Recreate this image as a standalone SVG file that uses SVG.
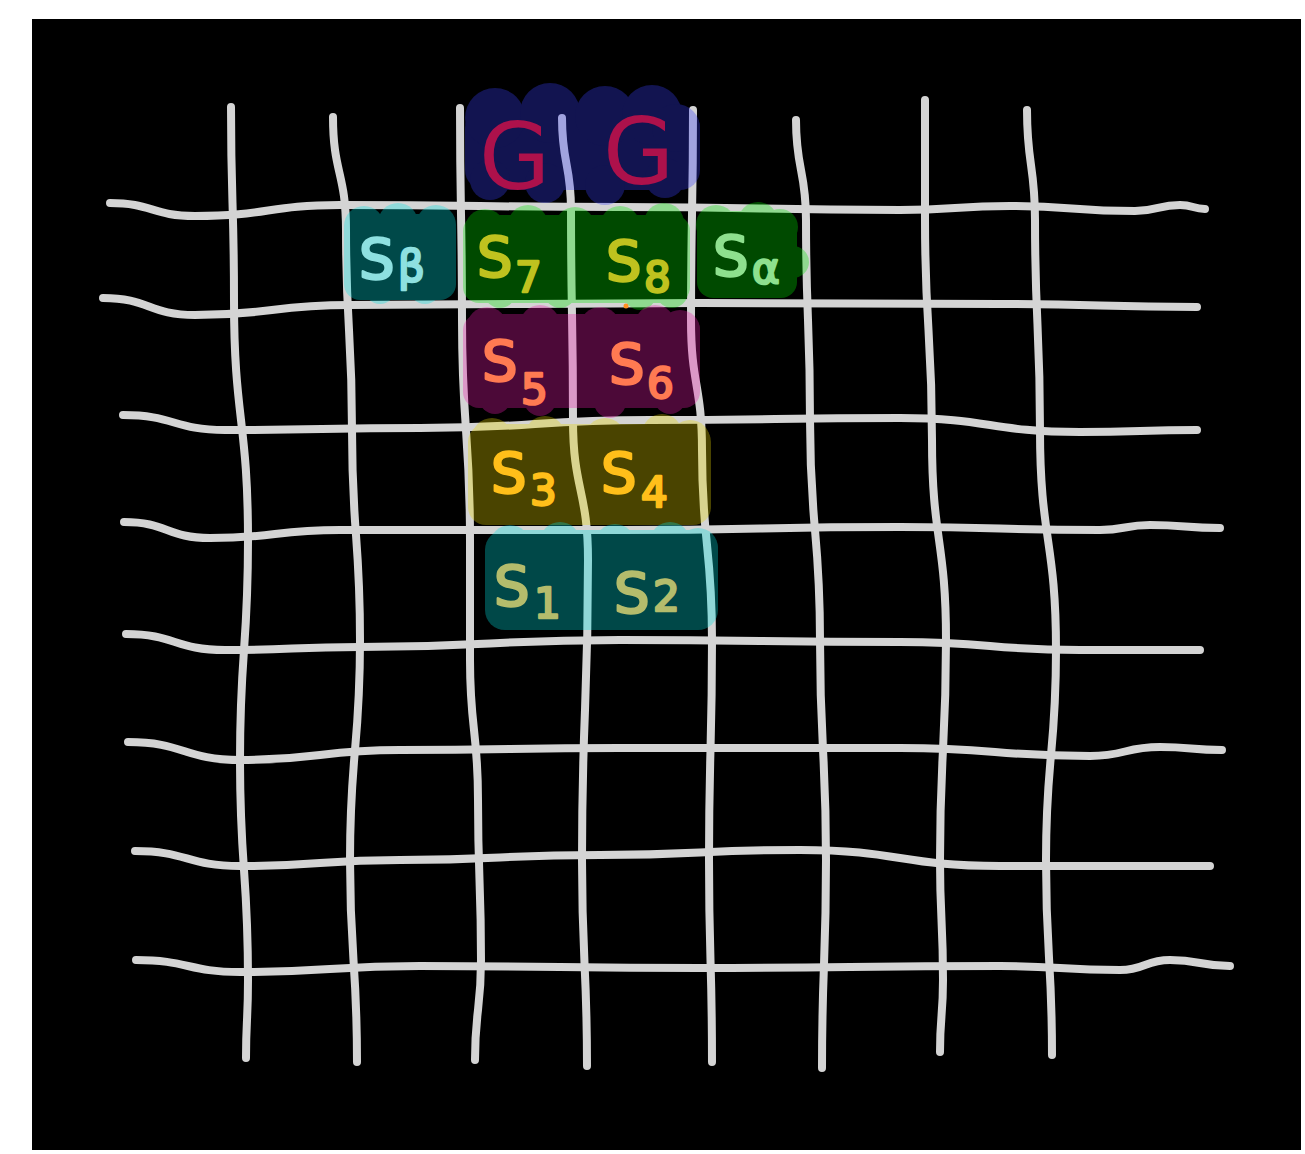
<svg xmlns="http://www.w3.org/2000/svg" width="1305" height="1154" viewBox="0 0 1305 1154">
<style>
.ln{fill:none;stroke:#d4d4d4;stroke-width:8;stroke-linecap:round;stroke-linejoin:round}
.blob{opacity:0.32}
.lbl{font-family:"DejaVu Sans","Noto Sans",sans-serif;font-size:56px;stroke-width:2.5;stroke-linejoin:round}
.sub{font-size:42px}
.g{font-size:92px}
</style>
<rect x="0" y="0" width="1305" height="1154" fill="#ffffff"/>
<rect x="32" y="19" width="1269" height="1131" fill="#000000"/>
<g id="grid">
<path class="ln" d="M110,203 C152,203 152,216 195,216 C268,216 268,205 340,205 C480,205 480,207 620,207 C760,207 760,210 900,210 C955,210 955,206 1010,206 C1072,206 1072,211 1135,211 C1158,211 1158,205 1180,205 C1193,205 1193,209 1205,209"/>
<path class="ln" d="M103,298 C149,298 149,315 195,315 C272,315 272,305 350,305 C525,305 525,303 700,303 C850,303 850,304 1000,304 C1100,304 1100,307 1197,307"/>
<path class="ln" d="M123,415 C174,415 174,430 225,430 C322,430 322,428 420,428 C535,428 535,420 650,420 C775,420 775,418 900,418 C990,418 990,432 1080,432 C1140,432 1140,430 1197,430"/>
<path class="ln" d="M124,522 C167,522 167,538 210,538 C275,538 275,530 340,530 C480,530 480,530 620,530 C760,530 760,527 900,527 C1000,527 1000,530 1100,530 C1125,530 1125,525 1150,525 C1185,525 1185,528 1220,528"/>
<path class="ln" d="M126,634 C175,634 175,650 225,650 C292,650 292,647 360,647 C490,647 490,640 620,640 C760,640 760,642 900,642 C990,642 990,650 1080,650 C1140,650 1140,650 1200,650"/>
<path class="ln" d="M128,742 C184,742 184,760 240,760 C320,760 320,750 400,750 C510,750 510,748 620,748 C760,748 760,748 900,748 C995,748 995,756 1090,756 C1125,756 1125,747 1160,747 C1191,747 1191,750 1222,750"/>
<path class="ln" d="M135,851 C187,851 187,866 240,866 C320,866 320,860 400,860 C500,860 500,855 600,855 C700,855 700,850 800,850 C900,850 900,866 1000,866 C1105,866 1105,866 1210,866"/>
<path class="ln" d="M136,960 C188,960 188,972 240,972 C330,972 330,966 420,966 C560,966 560,968 700,968 C850,968 850,966 1000,966 C1060,966 1060,970 1120,970 C1145,970 1145,960 1170,960 C1200,960 1200,966 1230,966"/>
<path class="ln" d="M231,107 C231,203 234,203 234,300 C234,420 248,420 248,540 C248,650 240,650 240,760 C240,870 248,870 248,980 C248,1020 246,1020 246,1058"/>
<path class="ln" d="M333,117 C333,173 346,173 346,230 C346,330 352,330 352,430 C352,535 360,535 360,640 C360,750 350,750 350,860 C350,960 357,960 357,1062"/>
<path class="ln" d="M460,108 C460,214 462,214 462,320 C462,430 470,430 470,540 C470,600 470,600 470,660 C470,730 478,730 478,800 C478,880 481,880 481,960 C481,1010 475,1010 475,1060"/>
<path class="ln" d="M562,118 C562,164 571,164 571,210 C571,315 573,315 573,420 C573,490 588,490 588,560 C588,710 582,710 582,860 C582,963 587,963 587,1066"/>
<path class="ln" d="M693,110 C693,215 691,215 691,320 C691,385 702,385 702,450 C702,545 712,545 712,640 C712,750 709,750 709,860 C709,960 712,960 712,1062"/>
<path class="ln" d="M796,120 C796,170 806,170 806,220 C806,320 810,320 810,420 C810,530 820,530 820,640 C820,750 826,750 826,860 C826,965 822,965 822,1068"/>
<path class="ln" d="M925,100 C925,160 925,160 925,220 C925,330 932,330 932,440 C932,540 946,540 946,640 C946,750 940,750 940,860 C940,920 943,920 943,980 C943,1016 940,1016 940,1052"/>
<path class="ln" d="M1027,110 C1027,165 1035,165 1035,220 C1035,325 1040,325 1040,430 C1040,540 1056,540 1056,650 C1056,755 1046,755 1046,860 C1046,958 1052,958 1052,1055"/>
<circle cx="626" cy="306" r="2.5" fill="#ff9020"/>
</g>
<g id="cell-G">
<g class="blob" fill="#383ef8">
<rect x="465" y="108" width="235" height="82" rx="20"/>
<circle cx="495" cy="118" r="30"/><circle cx="550" cy="113" r="30"/><circle cx="605" cy="116" r="30"/><circle cx="652" cy="115" r="30"/><circle cx="676" cy="128" r="24"/>
<circle cx="490" cy="180" r="20"/><circle cx="545" cy="183" r="20"/><circle cx="605" cy="185" r="20"/><circle cx="665" cy="178" r="20"/>
</g>
<text class="lbl g" x="479" y="189" fill="#ad114b">G</text>
<text class="lbl g" x="603" y="184" fill="#ad114b">G</text>
</g>
<g id="cell-Sbeta">
<g class="blob" fill="#00e4e4">
<rect x="344" y="214" width="112" height="86" rx="16"/>
<circle cx="364" cy="226" r="20"/><circle cx="398" cy="223" r="20"/><circle cx="436" cy="225" r="20"/>
<circle cx="380" cy="288" r="16"/><circle cx="425" cy="288" r="16"/>
</g>
<text class="lbl" x="359" y="278" fill="#8ee0e0" stroke="#8ee0e0">S<tspan class="sub" x="398" y="281">β</tspan></text>
</g>
<g id="cell-S7S8">
<g class="blob" fill="#00e600">
<rect x="463" y="215" width="227" height="88" rx="16"/>
<circle cx="485" cy="229" r="20"/><circle cx="528" cy="225" r="20"/><circle cx="575" cy="227" r="20"/><circle cx="620" cy="226" r="20"/><circle cx="664" cy="223" r="20"/>
<circle cx="500" cy="292" r="16"/><circle cx="560" cy="292" r="16"/><circle cx="640" cy="294" r="16"/><circle cx="672" cy="292" r="16"/>
</g>
<text class="lbl" x="477" y="276" fill="#bfc21f" stroke="#bfc21f">S<tspan class="sub" x="515" y="292">7</tspan></text>
<text class="lbl" x="606" y="280" fill="#bfc21f" stroke="#bfc21f">S<tspan class="sub" x="644" y="292">8</tspan></text>
</g>
<g id="cell-Salpha">
<g class="blob" fill="#00e600">
<rect x="697" y="211" width="100" height="87" rx="16"/>
<circle cx="716" cy="225" r="20"/><circle cx="758" cy="222" r="20"/><circle cx="780" cy="227" r="18"/><circle cx="793" cy="262" r="16"/>
</g>
<text class="lbl" x="713" y="275" fill="#8ee08e" stroke="#8ee08e">S<tspan class="sub" x="752" y="283">α</tspan></text>
</g>
<g id="cell-S5S6">
<g class="blob" fill="#ec1eae">
<rect x="463" y="314" width="237" height="94" rx="16"/>
<circle cx="487" cy="327" r="20"/><circle cx="540" cy="325" r="20"/><circle cx="600" cy="327" r="20"/><circle cx="655" cy="325" r="20"/><circle cx="680" cy="330" r="20"/>
<circle cx="495" cy="398" r="16"/><circle cx="540" cy="400" r="16"/><circle cx="610" cy="402" r="16"/><circle cx="670" cy="398" r="16"/>
</g>
<text class="lbl" x="482" y="380" fill="#ff7a52" stroke="#ff7a52">S<tspan class="sub" x="521" y="404">5</tspan></text>
<text class="lbl" x="609" y="383" fill="#ff7a52" stroke="#ff7a52">S<tspan class="sub" x="647" y="398">6</tspan></text>
</g>
<g id="cell-S3S4">
<g class="blob" fill="#e6d400">
<rect x="468" y="424" width="243" height="101" rx="18"/>
<circle cx="492" cy="438" r="20"/><circle cx="545" cy="436" r="20"/><circle cx="605" cy="438" r="20"/><circle cx="662" cy="434" r="20"/><circle cx="690" cy="440" r="20"/>
</g>
<text class="lbl" x="491" y="492" fill="#ffbf1a" stroke="#ffbf1a">S<tspan class="sub" x="530" y="505">3</tspan></text>
<text class="lbl" x="601" y="492" fill="#ffbf1a" stroke="#ffbf1a">S<tspan class="sub" x="641" y="507">4</tspan></text>
</g>
<g id="cell-S1S2">
<g class="blob" fill="#00e0e0">
<rect x="485" y="530" width="233" height="100" rx="20"/>
<circle cx="510" cy="545" r="20"/><circle cx="560" cy="542" r="20"/><circle cx="615" cy="544" r="20"/><circle cx="670" cy="542" r="20"/><circle cx="698" cy="548" r="20"/>
</g>
<text class="lbl" x="494" y="605" fill="#b4bc6c" stroke="#b4bc6c">S<tspan class="sub" x="534" y="618">1</tspan></text>
<text class="lbl" x="614" y="612" fill="#b4bc6c" stroke="#b4bc6c">S<tspan class="sub" x="653" y="611" font-size="46">2</tspan></text>
</g>
</svg>
